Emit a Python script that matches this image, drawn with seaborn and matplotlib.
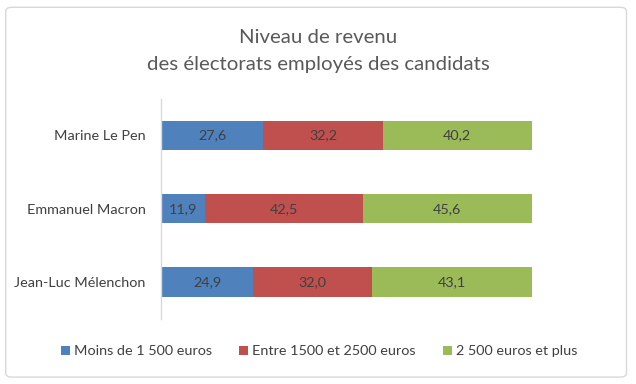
import pandas as pd
import seaborn as sns
import matplotlib.pyplot as plt
from matplotlib.patches import FancyBboxPatch, Patch

# Data
candidates = ['Marine Le Pen', 'Emmanuel Macron', 'Jean-Luc Mélenchon']
moins_1500 = [27.6, 11.9, 24.9]
entre_1500_2500 = [32.2, 42.5, 32.0]
plus_2500 = [40.2, 45.6, 43.1]
series_names = ['Moins de 1 500 euros', 'Entre 1500 et 2500 euros', '2 500 euros et plus']
colors = ['#4F81BD', '#C0504D', '#9BBB59']

sns.set_theme(style='white')
plt.rcParams['font.family'] = ['Lato', 'DejaVu Sans']

df = pd.DataFrame({'candidat': candidates, 's1': moins_1500, 's2': entre_1500_2500, 's3': plus_2500})
# cumulative sums for stacking
df['c1'] = df['s1']
df['c2'] = df['s1'] + df['s2']
df['c3'] = df['c2'] + df['s3']

fig = plt.figure(figsize=(6.36, 3.84), dpi=100)
ax = fig.add_axes([0.253, 0.170, 0.583, 0.573])

# draw from the longest cumulative bar down so each segment shows
for col, seg, color in [('c3', 's3', colors[2]), ('c2', 's2', colors[1]), ('c1', 's1', colors[0])]:
    sns.barplot(data=df, y='candidat', x=col, color=color, orient='h', width=0.4,
                saturation=1, ax=ax, linewidth=0)
    # label in the centre of the visible segment
    for i, row in df.iterrows():
        mid = row[col] - row[seg] / 2
        ax.text(mid, i, f"{row[seg]:.1f}".replace('.', ','), ha='center', va='center',
                fontsize=10.4, color='#404040')

ax.set_xlim(0, 100)
ax.set_ylim(2.5, -0.5)
ax.set_xlabel('')
ax.set_ylabel('')
ax.set_xticks([])
ax.tick_params(axis='y', length=0, pad=11, labelsize=10.4, labelcolor='#404040')
for side in ['top', 'right', 'bottom']:
    ax.spines[side].set_visible(False)
ax.spines['left'].set_color('#D9D9D9')
ax.spines['left'].set_linewidth(1)

fig.text(0.5, 0.902, 'Niveau de revenu', ha='center', va='center', fontsize=14.7, color='#595959')
fig.text(0.5, 0.832, 'des électorats employés des candidats', ha='center', va='center',
         fontsize=14.7, color='#595959')

handles = [Patch(facecolor=c, edgecolor='none') for c in colors]
fig.legend(handles, series_names, loc='center', bbox_to_anchor=(0.502, 0.085), ncol=3,
           frameon=False, fontsize=10.4, handlelength=0.6, handleheight=0.6,
           handletextpad=0.3, columnspacing=1.9, labelcolor='#404040')

border = FancyBboxPatch((0.009, 0.018), 0.976, 0.963, boxstyle='round,pad=0,rounding_size=0.01',
                        transform=fig.transFigure, facecolor='none', edgecolor='#D9D9D9', linewidth=1)
fig.patches.append(border)

fig.savefig('out.png', dpi=100)
